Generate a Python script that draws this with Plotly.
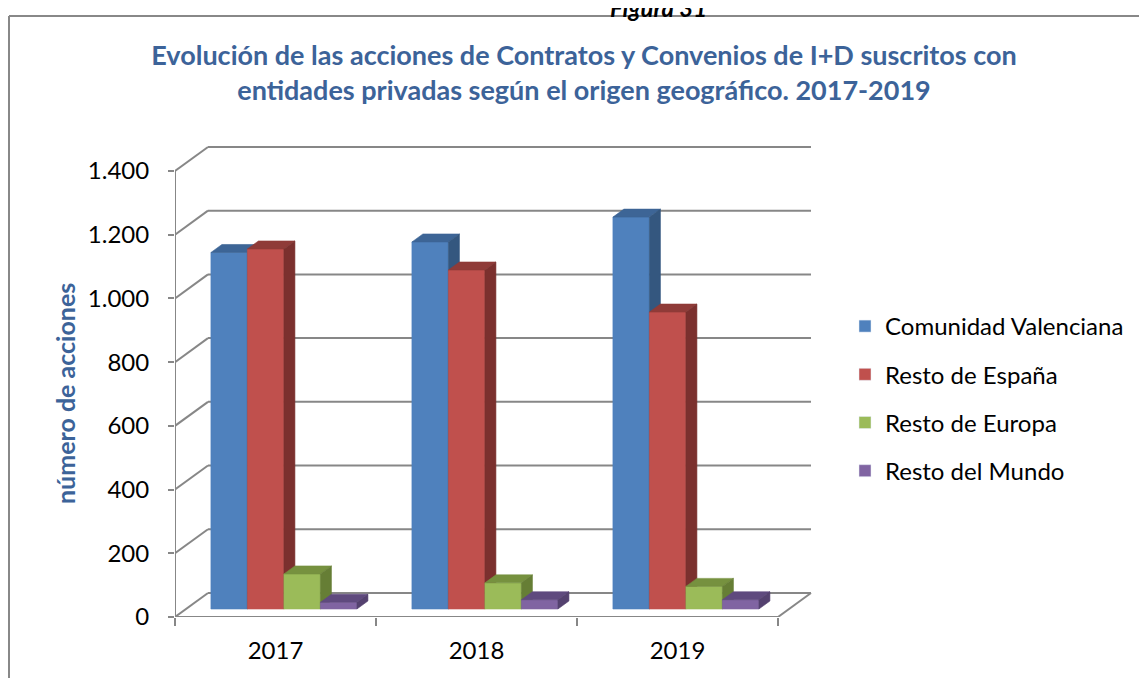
import plotly.graph_objects as go

# ---------------- data ----------------
years = ["2017", "2018", "2019"]
series_names = ["Comunidad Valenciana", "Resto de España", "Resto de Europa", "Resto del Mundo"]
comunidad_valenciana = [1119, 1152, 1230]
resto_espana = [1130, 1064, 932]
resto_europa = [110, 82, 71]
resto_mundo = [21, 29, 29]
y_ticks = [0, 200, 400, 600, 800, 1000, 1200, 1400]

values = [comunidad_valenciana, resto_espana, resto_europa, resto_mundo]

# ---------------- style ----------------
FRONT = ["#4F81BD", "#C0504D", "#9BBB59", "#8064A2"]
TOP = ["#3D6596", "#8F3B38", "#76913F", "#5F4A7E"]
SIDE = ["#34577F", "#7B302E", "#667E35", "#54416F"]
GRID = "#878787"
TITLE_COLOR = "#3C6399"
FONT = "Lato"

W, H = 1147, 678
PAGE_OFF = 8            # default body margin of the html page
CAT_PX = 201.0          # pixels per category
VAL_PX = 0.3186         # pixels per value unit
# target (screen) pixel edges of the plot area
P_LEFT, P_RIGHT, P_TOP, P_BOTTOM = 175, 815, 130, 617
ML = P_LEFT - PAGE_OFF
MR = W - (P_RIGHT - PAGE_OFF)
MT = P_TOP - PAGE_OFF
MB = H - (P_BOTTOM - PAGE_OFF)
DX = 33.0 / CAT_PX      # depth offset along x (category units)
DY = 24.0 / VAL_PX      # depth offset along y (value units)
BAR_W = 36.5 / CAT_PX
GROUP_START = 0.124
XMAX = (P_RIGHT - P_LEFT) / CAT_PX
YMAX = (P_BOTTOM - P_TOP) / VAL_PX


def px_to_paper_x(px):
    return (px - P_LEFT) / (P_RIGHT - P_LEFT)


def py_to_paper_y(py):
    return (P_BOTTOM - py) / (P_BOTTOM - P_TOP)


fig = go.Figure()

# ---------------- bars (front, top, side faces) ----------------
for g in range(len(years)):
    for s, vals in enumerate(values):
        v = vals[g]
        x0 = g + GROUP_START + s * BAR_W + DX / 3
        x1 = x0 + BAR_W
        b0 = DY / 3
        t0 = v + DY / 3
        faces = [
            ([x0, x1, x1, x0, x0], [b0, b0, t0, t0, b0], FRONT[s]),
            ([x0, x1, x1 + DX / 3, x0 + DX / 3, x0], [t0, t0, t0 + DY / 3, t0 + DY / 3, t0], TOP[s]),
            ([x1, x1 + DX / 3, x1 + DX / 3, x1, x1], [b0, b0 + DY / 3, t0 + DY / 3, t0, b0], SIDE[s]),
        ]
        for fx, fy, col in faces:
            fig.add_trace(go.Scatter(
                x=fx, y=fy, mode="lines", fill="toself", fillcolor=col,
                line=dict(color=col, width=0.6), showlegend=False, hoverinfo="skip"))

# legend entries
for s, name in enumerate(series_names):
    fig.add_trace(go.Bar(x=[None], y=[None], name=name, marker_color=FRONT[s],
                         legendgroup=name, showlegend=True))

# ---------------- 3D frame (walls, floor) ----------------
shapes = []
line = dict(color=GRID, width=2)
for v in y_ticks:
    shapes.append(dict(type="line", xref="x", yref="y", x0=0, y0=v, x1=DX, y1=v + DY,
                       line=line, layer="below"))
    shapes.append(dict(type="line", xref="x", yref="y", x0=DX, y0=v + DY, x1=len(years) + DX,
                       y1=v + DY, line=line, layer="below"))
# floor front edge and right edge
shapes.append(dict(type="line", xref="x", yref="y", x0=0, y0=0, x1=len(years), y1=0,
                   line=line, layer="below"))
shapes.append(dict(type="line", xref="x", yref="y", x0=len(years), y0=0, x1=len(years) + DX, y1=DY,
                   line=line, layer="below"))
# vertical axis line
shapes.append(dict(type="line", xref="x", yref="y", x0=0, y0=0, x1=0, y1=y_ticks[-1],
                   line=line, layer="below"))
# outer chart border (left & top visible)
border = dict(color="#888888", width=2)
shapes.append(dict(type="line", xref="paper", yref="paper",
                   x0=px_to_paper_x(9), y0=py_to_paper_y(16), x1=px_to_paper_x(W + 20), y1=py_to_paper_y(16),
                   line=border))
shapes.append(dict(type="line", xref="paper", yref="paper",
                   x0=px_to_paper_x(9), y0=py_to_paper_y(16), x1=px_to_paper_x(9), y1=py_to_paper_y(H + 20),
                   line=border))

annotations = [
    dict(text="Figura 31", xref="paper", yref="paper", x=px_to_paper_x(658), y=py_to_paper_y(24),
         xanchor="center", yanchor="bottom", showarrow=False,
         font=dict(family=FONT, size=24, color="#000000", weight="bold", style="italic")),
    dict(text="número de acciones", xref="paper", yref="paper", x=px_to_paper_x(65), y=py_to_paper_y(394),
         xanchor="center", yanchor="middle", showarrow=False, textangle=-90,
         font=dict(family=FONT, size=25, color=TITLE_COLOR, weight="bold")),
]

fig.update_layout(
    width=W, height=H, autosize=False,
    margin=dict(l=ML, r=MR, t=MT, b=MB, pad=0),
    paper_bgcolor="white", plot_bgcolor="white",
    separators=",.",
    title=dict(text="Evolución de las acciones de Contratos y Convenios de I+D suscritos con<br>"
                    "entidades privadas según el origen geográfico. 2017-2019",
               x=(584 - PAGE_OFF) / W, xref="container", xanchor="center",
               y=1 - (65 - PAGE_OFF) / H, yref="container", yanchor="middle",
               font=dict(family=FONT, size=27, color=TITLE_COLOR, weight="bold")),
    xaxis=dict(range=[0, XMAX], showgrid=False, zeroline=False, showline=False,
               tickvals=[g + 0.5 for g in range(len(years))], ticktext=years, ticks="",
               tickfont=dict(family=FONT, size=24, color="#000000"), ticklabelstandoff=17,
               minor=dict(tick0=0, dtick=1, ticks="outside", ticklen=8, tickwidth=2, tickcolor=GRID)),
    yaxis=dict(range=[0, YMAX], showgrid=False, zeroline=False, showline=False,
               tickvals=y_ticks, tickformat=",d", ticks="outside", ticklen=6, tickwidth=2,
               tickcolor=GRID, tickfont=dict(family=FONT, size=24, color="#000000"),
               ticklabelstandoff=14),
    legend=dict(x=px_to_paper_x(845), y=py_to_paper_y(304), xanchor="left", yanchor="top",
                font=dict(family=FONT, size=24, color="#000000"), tracegroupgap=14,
                bgcolor="rgba(0,0,0,0)"),
    shapes=shapes, annotations=annotations, showlegend=True,
)

fig.write_html("out.html")
